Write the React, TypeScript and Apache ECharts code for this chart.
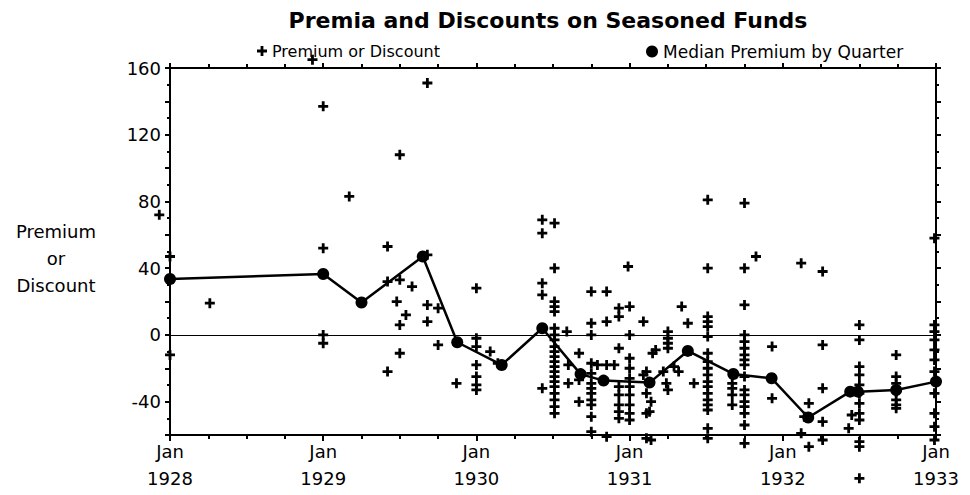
import React, { useEffect, useRef } from "react";
import * as echarts from "echarts";

const titleText = "Premia and Discounts on Seasoned Funds";
const seriesNames = ["Premium or Discount", "Median Premium by Quarter"];
const yTitleLines = ["Premium", "or", "Discount"];
const yearTicks = [1928, 1929, 1930, 1931, 1932, 1933];

// Individual fund premia/discounts: [date in years, percent]
const premiumPoints: [number, number][] = [
  [1927.93, 72], [1928.0, 47], [1928.0, -12], [1928.26, 19],
  [1928.93, 165], [1929.0, 137], [1929.0, 52], [1929.0, 0], [1929.0, -5],
  [1929.17, 83], [1929.42, 53], [1929.42, 32], [1929.42, -22], [1929.5, 108], [1929.5, 33],
  [1929.48, 20], [1929.54, 12], [1929.5, 6], [1929.5, -11], [1929.58, 29], [1929.68, 151],
  [1929.68, 48], [1929.68, 18], [1929.68, 8], [1929.75, 16], [1929.75, -6], [1929.87, -29],
  [1930.0, 28], [1930.0, -2], [1930.0, -7], [1930.0, -18], [1930.0, -25], [1930.0, -30], [1930.0, -33],
  [1930.09, -10], [1930.14, -17],
  [1930.43, 69], [1930.43, 61], [1930.43, 31], [1930.43, 24], [1930.43, -32],
  [1930.51, 67], [1930.51, 40], [1930.51, 20], [1930.51, 17], [1930.51, 14], [1930.51, 4], [1930.51, 0],
  [1930.51, -3], [1930.51, -7], [1930.51, -10], [1930.51, -13], [1930.51, -16], [1930.51, -19],
  [1930.51, -22], [1930.51, -25], [1930.51, -28], [1930.51, -31], [1930.51, -35], [1930.51, -39],
  [1930.51, -43], [1930.51, -47],
  [1930.59, 2], [1930.6, -18], [1930.6, -29], [1930.67, -11], [1930.67, -27], [1930.67, -40],
  [1930.75, 26], [1930.75, 7], [1930.75, 0], [1930.75, -17], [1930.75, -23], [1930.75, -29],
  [1930.75, -32], [1930.75, -35], [1930.75, -39], [1930.75, -42], [1930.75, -49], [1930.75, -58],
  [1930.79, -18], [1930.85, 26], [1930.85, 8], [1930.85, -18], [1930.85, -61], [1930.9, -18],
  [1930.93, 16], [1930.93, 11], [1930.93, -8], [1930.93, -31], [1930.93, -36], [1930.93, -42],
  [1930.93, -46], [1930.93, -50],
  [1930.99, 41], [1931.0, 17], [1931.0, 0], [1931.0, -14], [1931.0, -20], [1931.0, -26], [1931.0, -31],
  [1931.0, -36], [1931.0, -42], [1931.0, -47], [1931.0, -51],
  [1931.09, 8], [1931.09, -24], [1931.11, -22], [1931.11, -35], [1931.11, -47], [1931.14, -40],
  [1931.13, -46], [1931.11, -62], [1931.14, -63], [1931.15, -11], [1931.17, -9],
  [1931.22, -22], [1931.25, 2], [1931.25, -2], [1931.25, -5], [1931.25, -8], [1931.24, -29],
  [1931.25, -33], [1931.29, -19], [1931.32, -22], [1931.34, 17], [1931.38, 7], [1931.42, -29],
  [1931.51, 81], [1931.51, 40], [1931.51, 11], [1931.51, 8], [1931.51, 5], [1931.51, -1], [1931.51, -11],
  [1931.51, -16], [1931.51, -20], [1931.51, -24], [1931.51, -28], [1931.51, -31], [1931.51, -35],
  [1931.51, -39], [1931.51, -42], [1931.51, -45], [1931.51, -56], [1931.51, -62],
  [1931.67, -29], [1931.67, -32], [1931.67, -36], [1931.67, -42],
  [1931.75, 79], [1931.75, 40], [1931.75, 18], [1931.75, 0], [1931.75, -4], [1931.75, -8], [1931.75, -12],
  [1931.75, -15], [1931.75, -18], [1931.75, -25], [1931.75, -33], [1931.75, -36], [1931.75, -40],
  [1931.75, -43], [1931.75, -47], [1931.75, -54], [1931.75, -65],
  [1931.825, 47], [1931.93, -7], [1931.93, -38],
  [1932.12, 43], [1932.26, 38], [1932.26, -6], [1932.26, -32], [1932.26, -52], [1932.26, -63],
  [1932.17, -41], [1932.14, -49], [1932.12, -59], [1932.17, -67],
  [1932.43, -56], [1932.45, -48],
  [1932.5, 6], [1932.5, -3], [1932.5, -19], [1932.5, -24], [1932.5, -30], [1932.5, -35], [1932.5, -41],
  [1932.5, -47], [1932.5, -51], [1932.5, -64], [1932.5, -67], [1932.5, -86],
  [1932.74, -12], [1932.74, -25], [1932.74, -29], [1932.74, -34], [1932.74, -39], [1932.74, -42], [1932.74, -44],
  [1932.99, 58], [1932.99, 6], [1932.99, 2], [1932.99, -3], [1932.99, -9], [1932.99, -15], [1932.99, -22],
  [1932.99, -35], [1932.99, -47], [1932.99, -55], [1932.99, -63],
];

// Median premium by quarter: [date in years, percent]
const medianPoints: [number, number][] = [
  [1928.0, 33.5], [1929.0, 36.5], [1929.25, 19.4], [1929.65, 47], [1929.875, -4.4],
  [1930.165, -18], [1930.43, 4], [1930.68, -23.5], [1930.83, -27.4], [1931.13, -28.6],
  [1931.38, -9.6], [1931.677, -23.4], [1931.927, -26], [1932.166, -49.5], [1932.44, -34],
  [1932.49, -34], [1932.74, -33], [1933.0, -28],
];

const plusPath = "path://M3.6,0H6.4V3.6H10V6.4H6.4V10H3.6V6.4H0V3.6H3.6Z";
const FONT = "DejaVu Sans";

export default function App() {
  const ref = useRef<HTMLDivElement>(null);
  useEffect(() => {
    if (!ref.current) return;
    const chart = echarts.init(ref.current, null, { renderer: "svg" });
    const axisLine = { show: true, onZero: false, lineStyle: { color: "#000", width: 2 } };
    const tick = { show: true, length: 6, lineStyle: { color: "#000", width: 2 } };
    const minor = { show: true, length: 4, lineStyle: { color: "#000", width: 2 } };
    const option: any = {
      animation: false,
      backgroundColor: "#fff",
      title: {
        text: titleText,
        left: 543,
        textAlign: "center",
        top: 4,
        textStyle: { fontFamily: FONT, fontSize: 22, fontWeight: "bold", color: "#000" },
      },
      legend: [
        {
          data: [{ name: seriesNames[0], icon: plusPath }],
          left: 252, top: 38, itemWidth: 10, itemHeight: 10, itemGap: 4,
          textStyle: { fontFamily: FONT, fontSize: 16, color: "#000" },
        },
        {
          data: [{ name: seriesNames[1], icon: "circle" }],
          left: 641, top: 38, itemWidth: 12, itemHeight: 12, itemGap: 4,
          textStyle: { fontFamily: FONT, fontSize: 17, color: "#000" },
        },
      ],
      grid: { left: 170, right: 34, top: 68, bottom: 60 },
      xAxis: [
        {
          type: "value", min: 1928, max: 1933, interval: 1, position: "bottom",
          axisLine, splitLine: { show: false },
          axisTick: tick,
          minorTick: { ...minor, splitNumber: 4 },
          axisLabel: {
            formatter: (v: number) => (yearTicks.includes(v) ? "Jan\n" + v : ""),
            fontFamily: FONT, fontSize: 18, color: "#000", lineHeight: 27, margin: 3,
          },
        },
        {
          type: "value", min: 1928, max: 1933, interval: 1, position: "top",
          axisLine, splitLine: { show: false }, axisLabel: { show: false },
          axisTick: { ...tick, length: 5 },
          minorTick: { ...minor, splitNumber: 4 },
        },
      ],
      yAxis: [
        {
          type: "value", min: -60, max: 160, interval: 20, position: "left",
          axisLine, splitLine: { show: false },
          axisTick: { ...tick, length: 5 },
          minorTick: { ...minor, splitNumber: 2, length: 3 },
          axisLabel: {
            formatter: (v: number) => (v % 40 === 0 ? String(v) : ""),
            fontFamily: FONT, fontSize: 18, color: "#000", margin: 9,
          },
        },
        {
          type: "value", min: -60, max: 160, interval: 20, position: "right",
          axisLine, splitLine: { show: false }, axisLabel: { show: false },
          axisTick: { ...tick, length: 5 },
          minorTick: { ...minor, splitNumber: 2, length: 3 },
        },
      ],
      graphic: [
        {
          type: "text", x: 56, y: 218,
          style: {
            text: yTitleLines.join("\n"), fill: "#000", font: `18px "${FONT}"`,
            align: "center", lineHeight: 27,
          },
        },
      ],
      series: [
        {
          name: seriesNames[0], type: "scatter", data: premiumPoints, clip: false,
          symbol: plusPath, symbolSize: 10, itemStyle: { color: "#000", opacity: 1 },
          markLine: {
            silent: true, symbol: ["none", "none"], label: { show: false },
            lineStyle: { color: "#000", width: 1.2, type: "solid" },
            data: [{ yAxis: 0 }],
          },
        },
        {
          name: seriesNames[1], type: "line", data: medianPoints, clip: false,
          symbol: "circle", symbolSize: 12, showAllSymbol: true,
          lineStyle: { color: "#000", width: 2.5 }, itemStyle: { color: "#000", opacity: 1 },
        },
      ],
    };
    chart.setOption(option);
    return () => chart.dispose();
  }, []);
  return (
    <div
      ref={ref}
      style={{ position: "fixed", left: 0, top: 0, width: 970, height: 495, background: "#fff" }}
    />
  );
}
